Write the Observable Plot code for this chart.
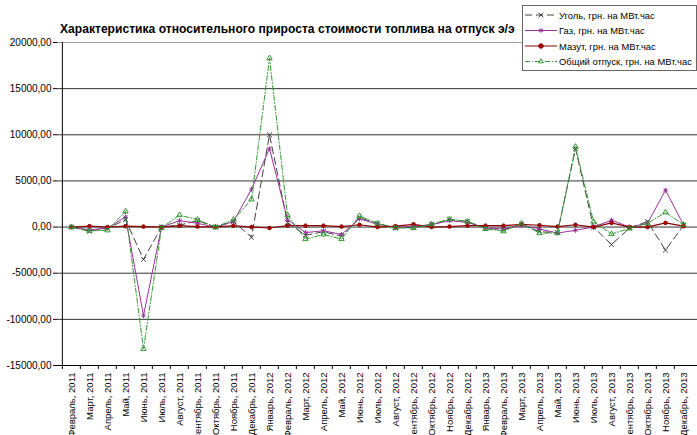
<!DOCTYPE html>
<html><head><meta charset="utf-8">
<script src="https://cdn.jsdelivr.net/npm/d3@7"></script>
<script src="https://cdn.jsdelivr.net/npm/@observablehq/plot@0.6"></script>
<style>
html,body{margin:0;padding:0;background:#fff;overflow:hidden;}
#wrap{position:relative;width:697px;height:435px;font-family:Arial,"Liberation Sans",sans-serif;}
#title{position:absolute;left:60px;top:22px;font-weight:bold;font-size:12.1px;white-space:nowrap;color:#000;}
#legend{position:absolute;left:522px;top:5px;width:173px;height:64px;border:1px solid #666;background:#fff;}
#legend svg{position:absolute;left:0;top:0;}
</style></head>
<body><div id="wrap"><div id="chart"></div>
<div id="title">Характеристика относительного прироста стоимости топлива на отпуск э/э</div>
<div id="legend"></div></div>
<script>
const months = ["Февраль, 2011","Март, 2011","Апрель, 2011","Май, 2011","Июнь, 2011","Июль, 2011","Август, 2011","Сентябрь, 2011","Октябрь, 2011","Ноябрь, 2011","Декабрь, 2011","Январь, 2012","Февраль, 2012","Март, 2012","Апрель, 2012","Май, 2012","Июнь, 2012","Июль, 2012","Август, 2012","Сентябрь, 2012","Октябрь, 2012","Ноябрь, 2012","Декабрь, 2012","Январь, 2013","Февраль, 2013","Март, 2013","Апрель, 2013","Май, 2013","Июнь, 2013","Июль, 2013","Август, 2013","Сентябрь, 2013","Октябрь, 2013","Ноябрь, 2013","Декабрь, 2013"];
const seriesNames = ["Уголь, грн. на МВт.час","Газ, грн. на МВт.час","Мазут, грн. на МВт.час","Общий отпуск, грн. на МВт.час"];
const coal  = [0,-450,-150,800,-3500,0,200,700,0,600,-1100,10000,500,-900,-500,-1000,1000,400,-100,0,300,850,600,-100,-300,300,-500,-600,8500,0,-1900,-100,600,-2500,200];
const gas   = [0,-300,-100,1100,-9600,0,700,400,0,600,4100,8500,800,-600,-400,-800,900,300,-50,100,250,700,500,-100,-200,200,-200,-650,-350,0,750,0,400,4000,250];
const mazut = [0,100,0,100,50,0,150,50,0,150,0,-100,150,150,150,50,250,0,100,300,0,50,150,150,150,300,200,50,250,0,450,0,0,450,100];
const total = [0,-400,-350,1700,-13200,-100,1300,800,0,800,3000,18300,1300,-1300,-800,-1300,1200,400,-100,-100,300,850,600,-200,-450,400,-650,-650,8700,600,-750,-150,400,1600,250];
const yTicks = [-15000,-10000,-5000,0,5000,10000,15000,20000];

const styles = [
  {stroke:"#404040", dash:"7,4", symbol:"times", fill:"none", width:1, r:2.3},
  {stroke:"#993399", dash:null, symbol:"asterisk", fill:"none", width:1, r:2.3},
  {stroke:"#8b0000", dash:null, symbol:"circle", fill:"#b00000", width:1.2, r:1.8},
  {stroke:"#339933", dash:"5,2,1,2", symbol:"triangle2", fill:"none", width:1, r:2.6}
];
const values = [coal, gas, mazut, total];

const W = 697, H = 435, mL = 57, mR = 0, mT = 42, mB = 70;
const step = (W - mL - mR) / months.length;
const fmt = d => d.toFixed(2).replace(".", ",");

const marks = [
  Plot.gridY(yTicks.filter(d => d !== 20000 && d !== -15000), {stroke:"#333", strokeOpacity:1, strokeWidth:1}),
  Plot.ruleY([20000], {stroke:"#999", strokeWidth:1}),
  Plot.ruleY([-15000], {stroke:"#000", strokeWidth:1}),
  Plot.ruleX([months[0]], {y1:-15000, y2:20000, dx:-step/2, stroke:"#000"}),
  Plot.axisY(yTicks, {tickFormat: fmt, tickSize:4, fontSize:10, tickPadding:2, stroke:"#000", fill:"#000"}),
  Plot.axisX({tickSize:4, dx:-step/2, tickFormat: () => "", stroke:"#000"}),
  Plot.axisX({tickSize:0, tickRotate:-90, fontSize:9.5, tickPadding:7, fill:"#000"})
];
values.forEach((vals, s) => {
  const data = months.map((m, i) => ({month:m, value:vals[i]}));
  const st = styles[s];
  marks.push(Plot.line(data, {x:"month", y:"value", stroke:st.stroke, strokeWidth:st.width, strokeDasharray:st.dash}));
  marks.push(Plot.dot(data, {x:"month", y:"value", symbol:st.symbol, r:st.r, stroke:st.stroke, fill:st.fill, strokeWidth:1}));
});

const chart = Plot.plot({
  width: W, height: H, marginLeft: mL, marginRight: mR, marginTop: mT, marginBottom: mB,
  style: {fontFamily: "Arial, 'Liberation Sans', sans-serif", fontSize: "10px", background: "#fff", color:"#000"},
  x: {type:"point", domain: months, padding: 0.5, label: null},
  y: {domain: [-15000, 20000], label: null},
  symbol: {type: "identity"},
  marks
});
document.getElementById("chart").appendChild(chart);

// legend
const lg = d3.select("#legend").append("svg").attr("width", 173).attr("height", 64);
const sym = {times: d3.symbolTimes, asterisk: d3.symbolAsterisk, circle: d3.symbolCircle, triangle2: d3.symbolTriangle2};
seriesNames.forEach((name, s) => {
  const st = styles[s];
  const y = 9 + s * 15.5;
  lg.append("line").attr("x1", 2).attr("x2", 34).attr("y1", y).attr("y2", y)
    .attr("stroke", st.stroke).attr("stroke-dasharray", st.dash);
  lg.append("path").attr("d", d3.symbol(sym[st.symbol], 16)()).attr("transform", `translate(18,${y})`)
    .attr("stroke", st.stroke).attr("fill", st.fill);
  lg.append("text").attr("x", 36).attr("y", y + 3.5).attr("font-size", 9.4)
    .attr("font-family", "Arial, 'Liberation Sans', sans-serif").text(name);
});
</script></body></html>
